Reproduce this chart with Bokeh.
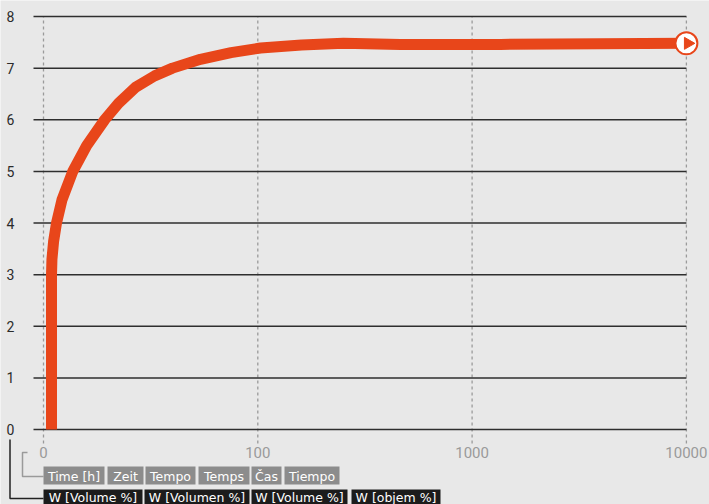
import math
from bokeh.plotting import figure
from bokeh.models import Range1d, LinearScale
from bokeh.core.properties import value
from bokeh.embed import file_html
from bokeh.resources import INLINE

# ---------------- data ----------------
time_h = [10.9, 10.9, 10.95, 11.15, 11.5, 12.2, 13.7, 15.9, 19.3, 22.4, 26.9,
          33, 40, 54, 75, 103, 160, 251, 463, 1358, 3980, 10000]
w_vol = [0.0, 3.0, 3.3, 3.65, 4.0, 4.45, 5.0, 5.5, 6.0, 6.32, 6.63,
         6.85, 7.0, 7.17, 7.3, 7.39, 7.45, 7.48, 7.46, 7.46, 7.47, 7.48]

y_ticks = [0, 1, 2, 3, 4, 5, 6, 7, 8]
x_ticks = [10, 100, 1000, 10000]
x_tick_labels = ["0", "100", "1000", "10000"]

time_labels = ["Time [h]", "Zeit", "Tempo", "Temps", "Čas", "Tiempo"]
w_labels = ["W [Volume %]", "W [Volumen %]", "W [Volume %]", "W [objem %]"]

# ---------------- layout (pixels) ----------------
W_PX, H_PX = 709, 504
X0_PX = 43          # pixel of first decade (10)
DEC_PX = 214.3      # pixels per decade
Y0_PX = 429         # pixel of y = 0
UNIT_PX = 51.625    # pixels per y unit

time_box_left = [43, 107, 145, 198, 251, 284]
time_box_right = [104, 143, 195, 249, 281, 339]
w_box_left = [43, 144, 251, 351]
w_box_right = [142, 249, 347, 440]

ORANGE = "#e8461a"
BG = "#e8e8e8"
FONT = "Roboto"
BOX_FONT = "DejaVu Sans"

x_lo = 10 ** (1 - X0_PX / DEC_PX)
x_hi = 10 ** (1 + (W_PX - X0_PX) / DEC_PX)
y_lo = -(H_PX - Y0_PX) / UNIT_PX
y_hi = y_ticks[-1] + (Y0_PX - y_ticks[-1] * UNIT_PX) / UNIT_PX

p = figure(width=W_PX, height=H_PX, x_axis_type="log",
           x_axis_location=None, y_axis_location=None,
           x_range=Range1d(x_lo, x_hi), y_range=Range1d(y_lo, y_hi),
           toolbar_location=None, output_backend="svg", min_border=0)
p.background_fill_color = BG
p.border_fill_color = BG
p.outline_line_color = None
p.grid.visible = False

p.extra_x_ranges = {"px": Range1d(0, W_PX)}
p.extra_x_scales = {"px": LinearScale()}
p.extra_y_ranges = {"px": Range1d(H_PX, 0)}

# vertical dashed lines
grid_left = 10 ** (1 - 10 / DEC_PX)
v_bottom = -(443 - Y0_PX) / UNIT_PX
p.segment(x0=x_ticks, x1=x_ticks, y0=[v_bottom] * len(x_ticks),
          y1=[y_ticks[-1]] * len(x_ticks),
          line_color="#9a9a9a", line_width=1.3, line_dash="3 3")

# horizontal grid lines
p.segment(x0=[grid_left] * len(y_ticks), x1=[x_ticks[-1]] * len(y_ticks),
          y0=y_ticks, y1=y_ticks, line_color="#2e2e2e", line_width=1.5)

# y tick labels
p.text(x=[10] * len(y_ticks), y=y_ticks, text=[str(v) for v in y_ticks],
       x_range_name="px", text_align="center", text_baseline="middle",
       text_font=value(FONT), text_font_size="14px", text_color="#2b2b2b")

# x tick labels
p.text(x=x_ticks, y=[452] * len(x_ticks), text=x_tick_labels,
       y_range_name="px", text_align="center", text_baseline="middle",
       text_font=value(FONT), text_font_size="15px", text_color="#9a9a9a")

# curve
p.line(time_h, w_vol, line_color=ORANGE, line_width=11, line_join="round")

# end marker
p.scatter([time_h[-1]], [w_vol[-1]], marker="circle", size=22,
          fill_color="white", line_color=ORANGE, line_width=2)
p.scatter([time_h[-1] * 10 ** (1.5 / DEC_PX)], [w_vol[-1]], marker="triangle",
          size=12, angle=-math.pi / 2, fill_color=ORANGE, line_color=ORANGE)

# brackets
p.line(x=[27, 22, 22, 43], y=[452, 452, 476, 476], x_range_name="px",
       y_range_name="px", line_color="#9a9a9a", line_width=1.5)
p.line(x=[9.5, 9.5, 43], y=[439, 498, 498], x_range_name="px",
       y_range_name="px", line_color="#222222", line_width=1.5)

# label boxes
p.quad(left=time_box_left, right=time_box_right, top=[466] * len(time_labels),
       bottom=[484] * len(time_labels), x_range_name="px", y_range_name="px",
       fill_color="#8c8c8c", line_color=None)
p.text(x=[(a + b) / 2 for a, b in zip(time_box_left, time_box_right)],
       y=[475.5] * len(time_labels), text=time_labels,
       x_range_name="px", y_range_name="px", text_align="center",
       text_baseline="middle", text_font=value(BOX_FONT), text_font_size="12.5px",
       text_color="white")

p.quad(left=w_box_left, right=w_box_right, top=[489] * len(w_labels),
       bottom=[510] * len(w_labels), x_range_name="px", y_range_name="px",
       fill_color="#1c1c1c", line_color=None)
p.text(x=[(a + b) / 2 for a, b in zip(w_box_left, w_box_right)],
       y=[496.5] * len(w_labels), text=w_labels,
       x_range_name="px", y_range_name="px", text_align="center",
       text_baseline="middle", text_font=value(BOX_FONT), text_font_size="12.5px",
       text_color="white")

open("out.html", "w").write(file_html(p, INLINE))
